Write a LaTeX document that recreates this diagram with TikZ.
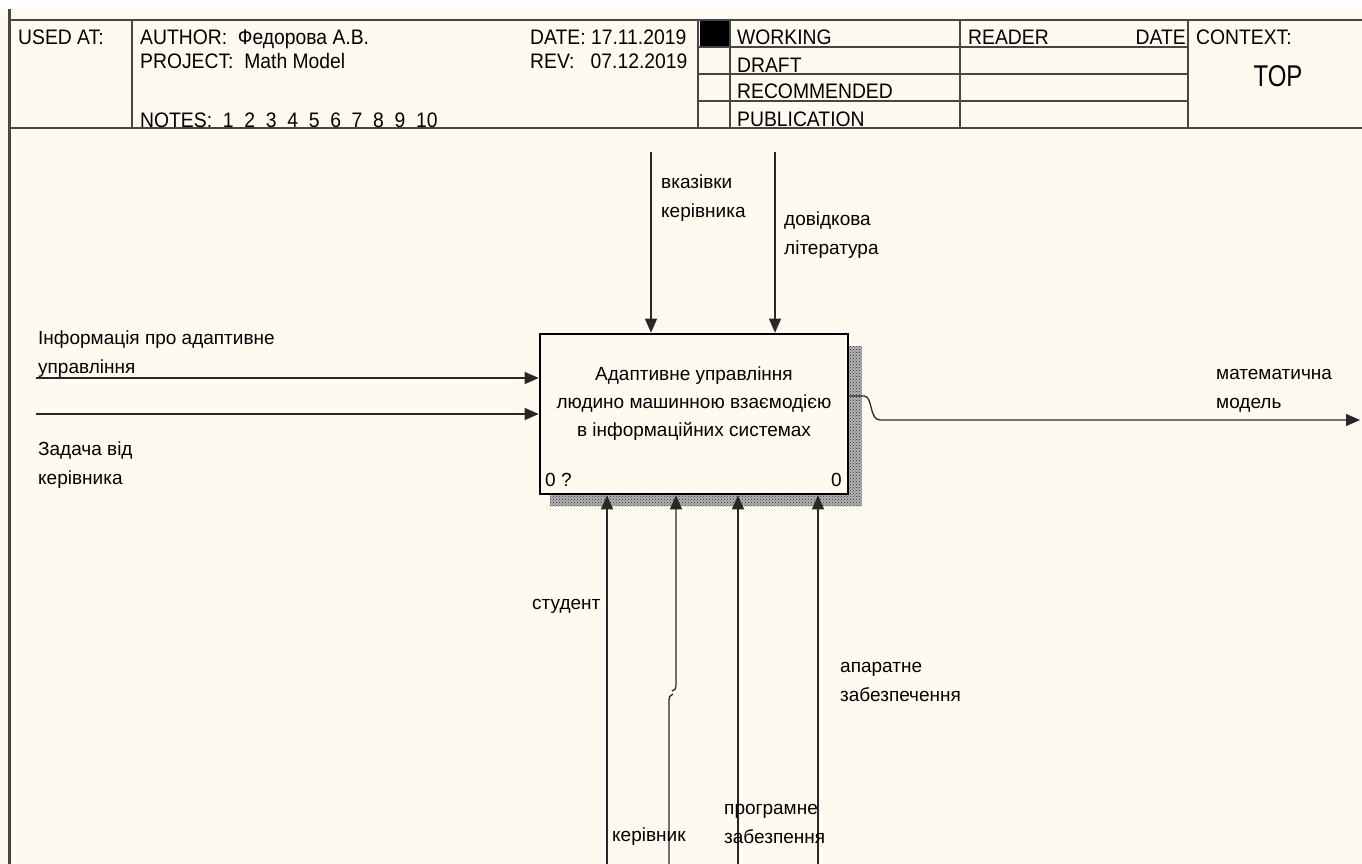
\documentclass[tikz,border=0pt]{standalone}
\usepackage{fontspec}
\setmainfont{Liberation Sans}
\newfontfamily\narrowfont{Liberation Sans}[FakeStretch=0.92]
\newfontfamily\tightfont{Liberation Sans}[FakeStretch=0.8]
\usetikzlibrary{positioning,arrows.meta,patterns}
\definecolor{paper}{RGB}{255,250,240}
\definecolor{rule}{RGB}{70,70,70}
\definecolor{wire}{RGB}{40,40,40}

\begin{document}
\begin{tikzpicture}[x=1pt,y=-1pt,
  hd/.style={anchor=base west,inner sep=0pt,font=\narrowfont\fontsize{21}{24}\selectfont},
  lb/.style={anchor=base west,inner sep=0pt,align=left,font=\fontsize{19}{29}\selectfont},
  fn/.style={line width=1.4pt,draw=rule},
  lk/.style={-{Triangle[length=14pt,width=12pt]},line width=1.3pt,draw=wire},
  fc/.style={draw=black,line width=2.6pt,fill=paper,minimum width=308pt,minimum height=160pt,inner sep=0pt}]

\useasboundingbox (0,0) rectangle (1362,864);
\fill[paper] (0,0) rectangle (1362,864);
\fill[white] (0,0) rectangle (1362,9);

% --- form frame and header ---
\draw[rule,line width=3pt] (9,9) -- (9,864);
\draw[fn] (9,20) -- (1362,20);
\draw[fn] (9,128) -- (1362,128);
\foreach \cx in {132,698,730,960,1188}
  \draw[fn] (\cx,20) -- (\cx,128);
\foreach \ry in {47,74,101}
  \draw[fn] (698,\ry) -- (1188,\ry);
\fill[black] (700,21) rectangle (729,46);

\node[hd] (usedat) at (18,45) {USED AT:};
\node[hd] (author) at (140,45) {AUTHOR:~~Федорова А.В.};
\node[hd] (project) at (140,69) {PROJECT:~~Math Model};
\node[hd] (notes) at (140,128) {NOTES:~~1~~2~~3~~4~~5~~6~~7~~8~~9~~10};
\node[hd] (date) at (530,45) {DATE: 17.11.2019};
\node[hd] (rev) at (530,69) {REV:~~~07.12.2019};
\node[hd] (working) at (737,45) {WORKING};
\node[hd] (draft) at (737,73) {DRAFT};
\node[hd] (recom) at (737,99) {RECOMMENDED};
\node[hd] (publ) at (737,127) {PUBLICATION};
\node[hd] (reader) at (968,45) {READER};
\node[hd,anchor=base east] (rdate) at (1186,45) {DATE};
\node[hd] (context) at (1196,45) {CONTEXT:};
\node[hd,anchor=base,font=\tightfont\fontsize{30}{32}\selectfont] (top) at (1278,87) {TOP};

% --- activity box ---
\fill[gray!60] (550,346) rectangle (862,506);
\fill[pattern=crosshatch dots,pattern color=black!80] (550,346) rectangle (862,506);
\node[fc] (act) at (694,414) {};
\node[align=center,inner sep=0pt,font=\fontsize{19}{28}\selectfont,anchor=base] (actname) at (694,436)
  {Адаптивне управління\\людино машинною взаємодією\\в інформаційних системах};
\node[anchor=base west,inner sep=0pt,font=\fontsize{19}{22}\selectfont] (nodeno) at (545,486) {0 ?};
\node[anchor=base east,inner sep=0pt,font=\fontsize{19}{22}\selectfont] (cost) at (842,486) {0};

% --- controls ---
\coordinate (c1) at (651,152);
\coordinate (c2) at (775,152);
\draw[lk] (c1) -- (c1 |- act.north);
\draw[lk] (c2) -- (c2 |- act.north);
\node[lb] (c1lab) at (661,217) {вказівки\\керівника};
\node[lb] (c2lab) at (784,254) {довідкова\\література};

% --- inputs ---
\coordinate (i1) at (36,378);
\coordinate (i2) at (36,414);
\draw[lk] (i1) -- (i1 -| act.west);
\draw[lk] (i2) -- (i2 -| act.west);
\node[lb] (i1lab) at (38,373) {Інформація про адаптивне\\управління};
\node[lb] (i2lab) at (38,484) {Задача від\\керівника};

% --- output ---
\coordinate (o1) at (1360,420);
\draw[lk] (act.east |- 0,396) -- (864,396) .. controls (873,396) and (869,420) .. (880,420) -- (o1);
\node[lb] (o1lab) at (1216,408) {математична\\модель};

% --- mechanisms ---
\coordinate (m1) at (607,864);
\coordinate (m2) at (669,864);
\coordinate (m2t) at (676,686);
\coordinate (m3) at (738,864);
\coordinate (m4) at (818,864);
\draw[lk] (m1) -- (m1 |- act.south);
\draw[wire,line width=1.3pt] (m2) -- (669,701) .. controls (669,697) and (670,695) .. (673,694);
\draw[lk] (672,691) .. controls (675,690) and (676,689) .. (m2t) -- (m2t |- act.south);
\draw[lk] (m3) -- (m3 |- act.south);
\draw[lk] (m4) -- (m4 |- act.south);
\node[lb] (m1lab) at (532,609) {студент};
\node[lb] (m2lab) at (612,841) {керівник};
\node[lb] (m3lab) at (724,843) {програмне\\забезпення};
\node[lb] (m4lab) at (840,701) {апаратне\\забезпечення};
\end{tikzpicture}
\end{document}
